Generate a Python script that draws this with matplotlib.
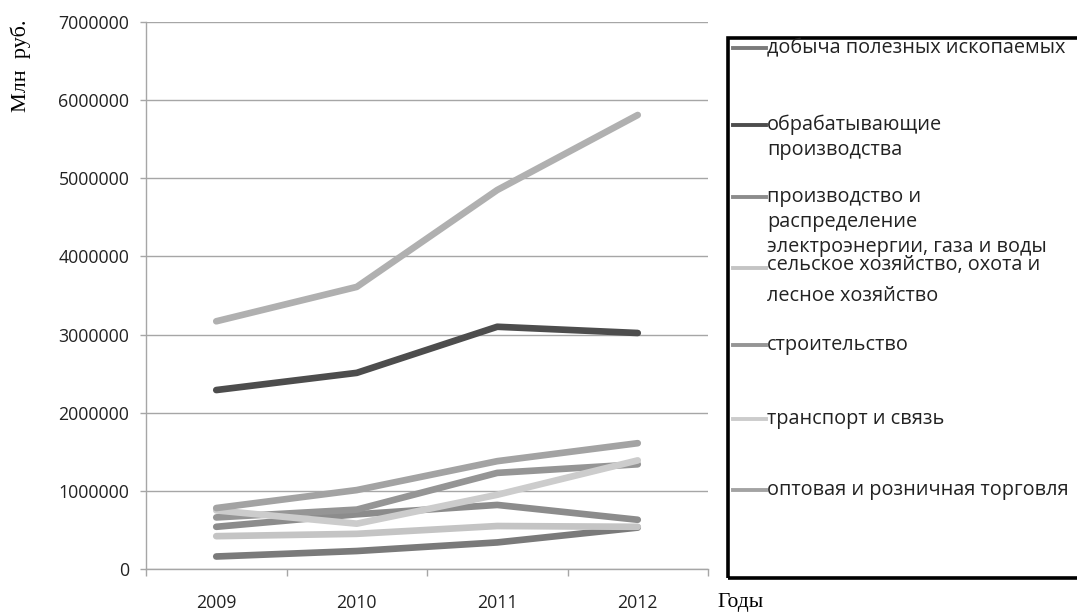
import matplotlib
matplotlib.use("Agg")
import matplotlib.pyplot as plt
from matplotlib.lines import Line2D
from matplotlib.patches import Rectangle
from matplotlib.ticker import FuncFormatter, FixedLocator

# ---- data (млн руб.) ----
years = ["2009", "2010", "2011", "2012"]
series_names = [
    "добыча полезных ископаемых",
    "обрабатывающие\nпроизводства",
    "производство и\nраспределение\nэлектроэнергии, газа и воды",
    "сельское хозяйство, охота и\nлесное хозяйство",
    "строительство",
    "транспорт и связь",
    "оптовая и розничная торговля",
]
mining = [160000, 230000, 340000, 530000]
manufacturing = [2290000, 2510000, 3100000, 3020000]
energy = [540000, 700000, 820000, 630000]
agriculture = [420000, 450000, 550000, 540000]
construction = [660000, 760000, 1230000, 1340000]
transport = [750000, 580000, 950000, 1390000]
trade = [780000, 1010000, 1380000, 1610000]
extra_series = [3170000, 3610000, 4850000, 5810000]  # 8th series, not shown in legend

y_ticks = [0, 1000000, 2000000, 3000000, 4000000, 5000000, 6000000, 7000000]

# ---- styles ----
colors = ["#7a7a7a", "#4d4d4d", "#8c8c8c", "#c4c4c4", "#959595", "#cccccc", "#a3a3a3"]
extra_color = "#b0b0b0"
values = [mining, manufacturing, energy, agriculture, construction, transport, trade]

W, H = 1077, 615
fig = plt.figure(figsize=(W / 100, H / 100), dpi=100)
fig.patch.set_facecolor("white")
ax = fig.add_axes([146 / W, 1 - 569 / H, (708 - 146) / W, (569 - 22) / H])

xpos = list(range(1, len(years) + 1))
for vals, c in zip(values, colors):
    ax.plot(xpos, vals, color=c, lw=4.8, solid_capstyle="round", solid_joinstyle="round")
ax.plot(xpos, extra_series, color=extra_color, lw=4.8, solid_capstyle="round",
        solid_joinstyle="round")

ax.set_xlim(0.5, len(years) + 0.5)
ax.set_ylim(0, 7000000)
ax.set_yticks(y_ticks)
ax.yaxis.set_major_formatter(FuncFormatter(lambda v, p: f"{int(v)}"))
ax.set_xticks(xpos)
ax.set_xticklabels(years)
ax.xaxis.set_minor_locator(FixedLocator([i + 0.5 for i in range(0, len(years) + 1)]))

sans = ["Open Sans", "DejaVu Sans"]
for lab in ax.get_yticklabels() + ax.get_xticklabels():
    lab.set_fontfamily(sans)
    lab.set_fontsize(12.8)
    lab.set_color("#222222")

ax.tick_params(axis="y", which="major", direction="out", length=4, width=1,
               color="#a6a6a6", pad=8)
ax.tick_params(axis="x", which="major", length=0, pad=18)
ax.tick_params(axis="x", which="minor", direction="out", length=5, width=1,
               color="#a6a6a6")

ax.yaxis.grid(True, color="#a6a6a6", lw=1)
ax.set_axisbelow(True)
for s in ["top", "right"]:
    ax.spines[s].set_visible(False)
for s in ["left", "bottom"]:
    ax.spines[s].set_color("#a6a6a6")
    ax.spines[s].set_linewidth(1)

serif = ["Liberation Serif", "DejaVu Serif"]
fig.text(21 / W, 1 - 66 / H, "Млн  руб.", rotation=90, ha="center", va="center",
         fontsize=16, family=serif, color="black")
fig.text(717 / W, 1 - 603 / H, "Годы", ha="left", va="center",
         fontsize=15.5, family=serif, color="black")

# ---- legend (manual, Excel-like, clipped at right edge) ----
fig.add_artist(Rectangle((728 / W, 1 - 578 / H), 420 / W, 540 / H,
                         transform=fig.transFigure, fill=False, ec="black", lw=2.6))
entry_y = [48, 125, 197, 268, 345, 419, 490]
row_gap = 25
for name, c, yy in zip(series_names, colors, entry_y):
    fig.add_artist(Line2D([733 / W, 766 / W], [1 - yy / H, 1 - yy / H],
                          transform=fig.transFigure, color=c, lw=2.8))
    for k, row in enumerate(name.split("\n")):
        ry = yy + k * row_gap
        if name.startswith("сельское"):
            ry = yy - 3 + k * 31
        fig.text(767 / W, 1 - ry / H, row, ha="left", va="center",
                 fontsize=14.3, family=sans, color="#222222")

fig.savefig("out.png", dpi=100, facecolor="white")
